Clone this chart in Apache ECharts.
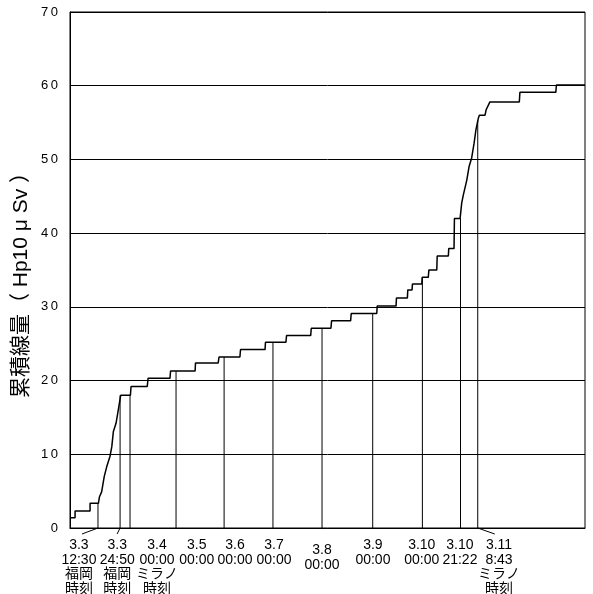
<!DOCTYPE html>
<html>
<head>
<meta charset="utf-8">
<script src="https://cdn.jsdelivr.net/npm/echarts@6/dist/echarts.min.js"></script>
<style>
    html, body { margin: 0; padding: 0; background: #fff; }
    #chart { width: 593px; height: 594px; }
</style>
</head>
<body>
<div id="chart"></div>
<script>
    // 時間軸: 3.3 00:00（ミラノ）からの経過時間 [h]
    let doseTime = [
        -6.0, -3.5, -3.5, 3.9, 3.9, 8.0, 8.5, 9.6, 10.9, 12.1, 13.7, 14.6, 15.4, 16.7, 17.8, 19.0,
        23.8, 24.1, 32.1, 32.5, 43.3, 43.6, 55.7, 55.9, 67.1, 67.5, 77.8, 78.1, 90.2, 90.4,
        100.5, 100.8, 112.7, 113.0, 122.7, 123.0, 132.4, 132.7, 145.3, 145.5, 154.8, 155.0,
        160.4, 160.6, 162.7, 162.9, 167.5, 167.7, 170.7, 171.0, 174.9, 175.1, 180.6, 180.8,
        183.4, 183.6, 186.4, 187.2, 188.0, 189.7, 190.8, 192.1, 193.3, 194.2, 195.4, 195.9,
        198.7, 199.2, 201.1, 215.6, 215.9, 233.6, 233.9, 248.0
    ];
    // 累積線量 [μSv]
    let doseValue = [
        1.4, 1.4, 2.3, 2.3, 3.35, 3.35, 4.2, 4.9, 7.0, 8.3, 9.7, 11.0, 13.1, 14.2, 16.0, 18.0,
        18.0, 19.2, 19.2, 20.3, 20.3, 21.3, 21.3, 22.4, 22.4, 23.2, 23.2, 24.2, 24.2, 25.2,
        25.2, 26.1, 26.1, 27.1, 27.1, 28.1, 28.1, 29.1, 29.1, 30.1, 30.1, 31.2,
        31.2, 32.3, 32.3, 33.1, 33.1, 34.0, 34.0, 35.0, 35.0, 36.9, 36.9, 37.9,
        37.9, 42.0, 42.0, 44.1, 45.2, 47.2, 49.0, 50.2, 52.2, 54.0, 55.6, 56.0,
        56.0, 56.7, 57.8, 57.8, 59.1, 59.1, 60.1, 60.1
    ];

    // 時刻の縦線
    let markTime = [7.8, 18.7, 23.6, 46.3, 70.0, 94.1, 118.3, 143.3, 167.8, 186.6, 195.1];
    let markValue = [3.35, 18.0, 18.0, 21.3, 23.2, 25.2, 27.1, 29.1, 34.0, 42.0, 55.3];

    // 目盛ラベル
    let labelTime = [-1.6, 17.3, 36.9, 56.5, 75.4, 94.6, 118.3, 143.4, 167.5, 186.3, 205.6];
    let labelText = [
        '3.3\n12:30\n福岡\n時刻',
        '3.3\n24:50\n福岡\n時刻',
        '3.4\n00:00\nミラノ\n時刻',
        '3.5\n00:00',
        '3.6\n00:00',
        '3.7\n00:00',
        '3.8\n00:00',
        '3.9\n00:00',
        '3.10\n00:00',
        '3.10\n21:22',
        '3.11\n8:43\nミラノ\n時刻'
    ];
    let yTicks = [0, 10, 20, 30, 40, 50, 60, 70];

    // 引き出し線（ピクセルのずれ）と少し下げるラベル
    let leader = {0: [-16, 6], 1: [-3, 6], 10: [17, 6]};
    let lowered = [6];

    let font = "'Liberation Sans', 'Noto Sans CJK JP', sans-serif";
    let myChart = echarts.init(document.getElementById('chart'));

    let option = {
        animation: false,
        grid: {
            left: 70, right: 8, top: 12, bottom: 66,
            outerBoundsMode: 'none',
            show: true, borderColor: '#000', borderWidth: 1
        },
        xAxis: {
            type: 'value',
            min: -6,
            max: 248,
            axisLine: {show: true, onZero: false, lineStyle: {color: '#000', width: 1}},
            axisTick: {show: false},
            splitLine: {show: false},
            axisLabel: {
                customValues: labelTime,
                margin: 10,
                color: '#000',
                fontSize: 14,
                lineHeight: 14.5,
                fontFamily: font,
                formatter: function (v) {
                    let i = labelTime.findIndex((t) => Math.abs(t - v) < 1e-6);
                    if (i < 0) return '';
                    if (lowered.indexOf(i) >= 0) {
                        return '{sp| }\n' + labelText[i];
                    }
                    return labelText[i];
                },
                rich: {
                    sp: {fontSize: 1, lineHeight: 5}
                }
            }
        },
        yAxis: {
            type: 'value',
            min: yTicks[0],
            max: yTicks[yTicks.length - 1],
            interval: 10,
            name: '累積線量（ Hp10 μ Sv ）',
            nameLocation: 'middle',
            nameGap: 38,
            nameRotate: 90,
            nameMoveOverlap: false,
            nameTextStyle: {color: '#000', fontSize: 21, fontFamily: font, padding: [0, 20, 0, 0]},
            axisLine: {show: true, onZero: false, lineStyle: {color: '#000', width: 1}},
            axisTick: {show: false},
            splitLine: {show: true, lineStyle: {color: '#000', width: 1}},
            axisLabel: {
                margin: 12,
                color: '#000',
                fontSize: 13,
                fontFamily: font,
                formatter: function (v) {
                    return String(v).split('').join('\u2009');
                }
            }
        },
        series: [{
            type: 'line',
            data: doseTime.map((t, i) => [t, doseValue[i]]),
            showSymbol: false,
            lineStyle: {color: '#000', width: 1.5},
            z: 3
        }, {
            type: 'custom',
            clip: false,
            data: markTime.map((t, i) => [t, markValue[i]]),
            renderItem: function (params, api) {
                let p0 = api.coord([api.value(0), 0]);
                let p1 = api.coord([api.value(0), api.value(1)]);
                let children = [{
                    type: 'line',
                    shape: {x1: p0[0], y1: p0[1], x2: p1[0], y2: p1[1]},
                    style: {stroke: '#000', lineWidth: 1}
                }];
                let d = leader[params.dataIndex];
                if (d) {
                    children.push({
                        type: 'line',
                        shape: {x1: p0[0], y1: p0[1], x2: p0[0] + d[0], y2: p0[1] + d[1]},
                        style: {stroke: '#000', lineWidth: 1}
                    });
                }
                return {type: 'group', children: children};
            },
            z: 2
        }]
    };
    myChart.setOption(option);
</script>
</body>
</html>
